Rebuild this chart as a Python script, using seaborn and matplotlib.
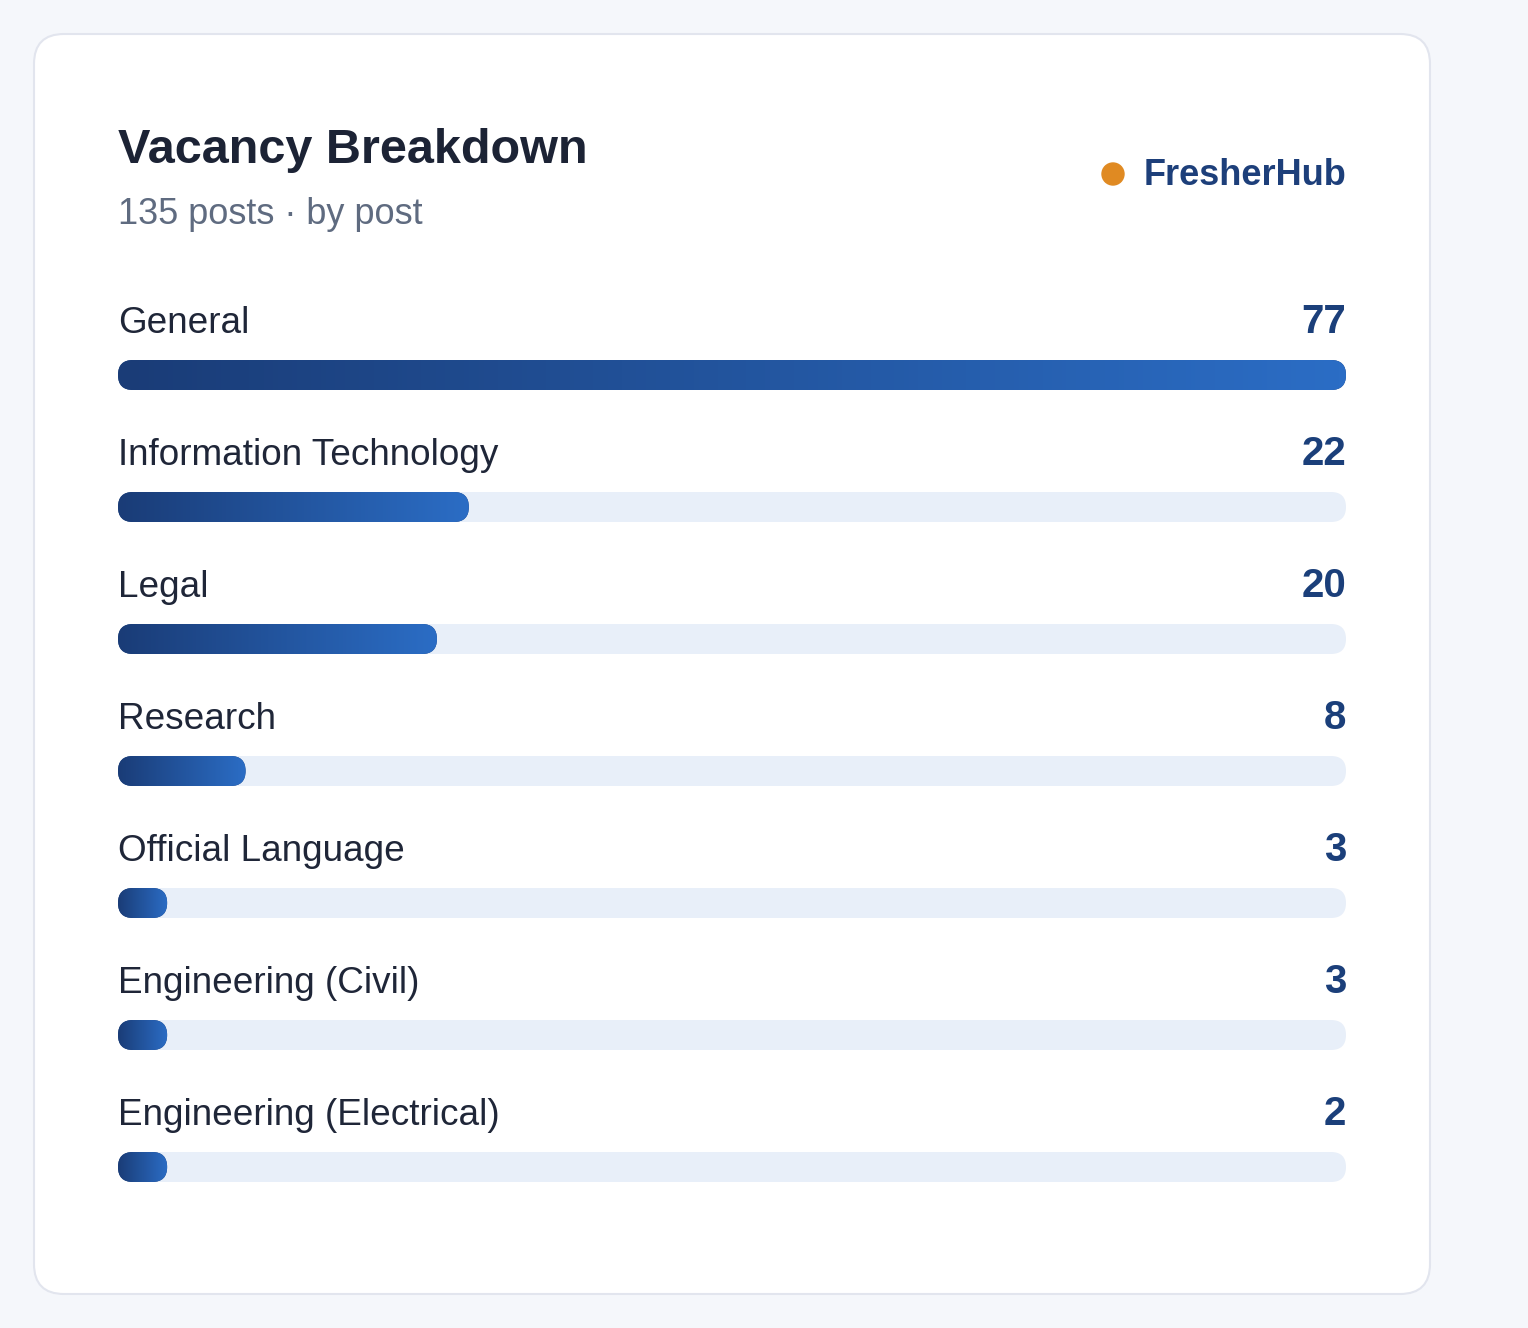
import numpy as np
import pandas as pd
import matplotlib
matplotlib.use("Agg")
import matplotlib.pyplot as plt
import seaborn as sns
from matplotlib.patches import FancyBboxPatch, Circle
from matplotlib.colors import LinearSegmentedColormap

# data
categories = ["General", "Information Technology", "Legal", "Research",
              "Official Language", "Engineering (Civil)", "Engineering (Electrical)"]
posts = [77, 22, 20, 8, 3, 3, 2]
title = "Vacancy Breakdown"
subtitle = "135 posts · by post"
brand = "FresherHub"

W, H = 1528, 1328
sns.set_theme(style="white")
plt.rcParams["font.family"] = ["Liberation Sans", "DejaVu Sans"]

fig = plt.figure(figsize=(W / 100, H / 100), dpi=100, facecolor="#f5f7fb")

# background layer in pixel coords: card + header
bg = fig.add_axes([0, 0, 1, 1])
bg.set_xlim(0, W)
bg.set_ylim(H, 0)
bg.axis("off")
bg.add_patch(FancyBboxPatch((34, 34), 1396, 1260, boxstyle="round,pad=0,rounding_size=30",
                            fc="white", ec="#e2e5ee", lw=1.5))
bg.text(118, 163, title, fontsize=35, fontweight="bold", color="#1c2335", va="baseline")
bg.text(118, 224, subtitle, fontsize=26, color="#5f6b80", va="baseline")
bg.text(1346, 185, brand, fontsize=26, fontweight="bold", color="#1d3f7a",
        va="baseline", ha="right")
bg.add_patch(Circle((1113, 174), 11, color="#e08a22"))

# bar area
df = pd.DataFrame({"category": categories, "posts": posts})
top = max(posts)
df["track"] = top
df["shown"] = np.maximum(df["posts"], 0.04 * top)  # small values keep a minimum pill

ax_l, ax_w, ax_top, row = 118, 1228, 309, 132
ax = fig.add_axes([ax_l / W, (H - ax_top - row * len(categories)) / H, ax_w / W,
                   row * len(categories) / H])
bar_h = 30 / row
sns.barplot(data=df, y="category", x="track", color="#e8eff9", width=bar_h,
            errorbar=None, orient="h", ax=ax, saturation=1)
sns.barplot(data=df, y="category", x="shown", color="#1b3f7a", width=bar_h,
            errorbar=None, orient="h", ax=ax, saturation=1)

n = len(categories)
sx = ax_w / top          # px per x unit
sy = row                 # px per y unit
rad = 15 / sx
aspect = sx / sy
cmap = LinearSegmentedColormap.from_list("bar", ["#1a3c77", "#2b6dc5"])
grad = np.linspace(0, 1, 256).reshape(1, -1)

for k, p in enumerate(list(ax.patches)):
    x0, y0, w, h = p.get_x(), p.get_y(), p.get_width(), p.get_height()
    fc = p.get_facecolor()
    p.remove()
    pill = FancyBboxPatch((x0, y0), w, h, boxstyle=f"round,pad=0,rounding_size={rad}",
                          mutation_aspect=aspect, fc=fc, ec="none", zorder=2 + (k >= n))
    ax.add_patch(pill)
    if k >= n:
        im = ax.imshow(grad, cmap=cmap, extent=(x0, x0 + w, y0 + h, y0), aspect="auto",
                       zorder=4, interpolation="bicubic")
        im.set_clip_path(pill)

for i, (cat, v) in enumerate(zip(categories, posts)):
    ax.text(0, i - 42 / row, cat, fontsize=26.6, color="#1f2638", va="baseline")
    ax.text(top, i - 42 / row, str(v), fontsize=29, fontweight="bold", color="#1b3f7a",
            va="baseline", ha="right")

ax.set_xlim(0, top)
ax.set_ylim(n - 0.5, -0.5)
ax.axis("off")

fig.savefig("out.png", dpi=100, facecolor=fig.get_facecolor())
